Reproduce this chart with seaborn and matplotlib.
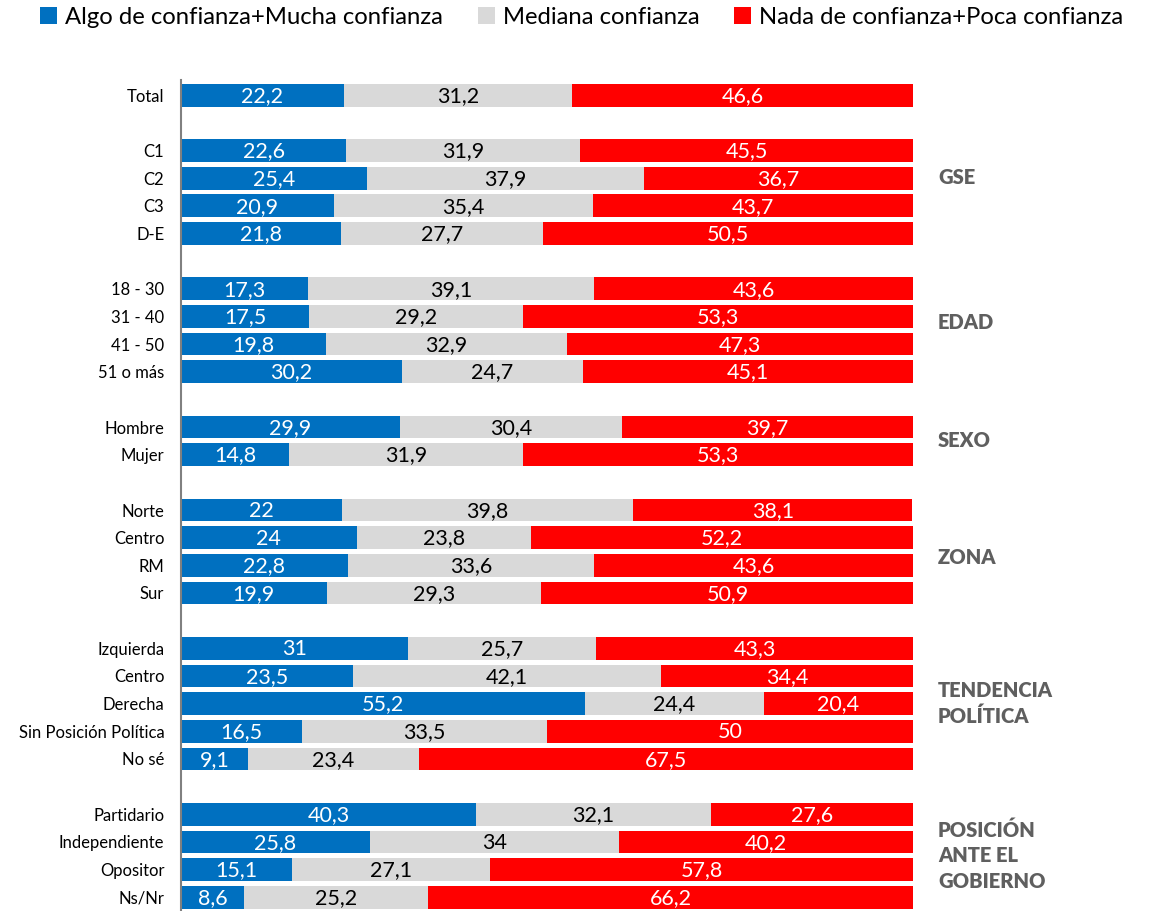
import matplotlib.pyplot as plt
import pandas as pd
import seaborn as sns
from matplotlib.patches import Patch

# Data
total_labels = ['Total']
gse_labels = ['C1', 'C2', 'C3', 'D-E']
edad_labels = ['18 - 30', '31 - 40', '41 - 50', '51 o más']
sexo_labels = ['Hombre', 'Mujer']
zona_labels = ['Norte', 'Centro', 'RM', 'Sur']
tendencia_labels = ['Izquierda', 'Centro', 'Derecha', 'Sin Posición Política', 'No sé']
posicion_labels = ['Partidario', 'Independiente', 'Opositor', 'Ns/Nr']

group_names = ['', 'GSE', 'EDAD', 'SEXO', 'ZONA', 'TENDENCIA\nPOLÍTICA', 'POSICIÓN\nANTE EL\nGOBIERNO']

confianza = [22.2,
             22.6, 25.4, 20.9, 21.8,
             17.3, 17.5, 19.8, 30.2,
             29.9, 14.8,
             22, 24, 22.8, 19.9,
             31, 23.5, 55.2, 16.5, 9.1,
             40.3, 25.8, 15.1, 8.6]
mediana = [31.2,
           31.9, 37.9, 35.4, 27.7,
           39.1, 29.2, 32.9, 24.7,
           30.4, 31.9,
           39.8, 23.8, 33.6, 29.3,
           25.7, 42.1, 24.4, 33.5, 23.4,
           32.1, 34, 27.1, 25.2]
nada = [46.6,
        45.5, 36.7, 43.7, 50.5,
        43.6, 53.3, 47.3, 45.1,
        39.7, 53.3,
        38.1, 52.2, 43.6, 50.9,
        43.3, 34.4, 20.4, 50, 67.5,
        27.6, 40.2, 57.8, 66.2]

legend_labels = ['Algo de confianza+Mucha confianza', 'Mediana confianza',
                 'Nada de confianza+Poca confianza']
colors = ['#0070C0', '#D9D9D9', '#FF0000']
text_colors = ['white', 'black', 'white']

# Build rows with unique keys and a blank spacer row between groups
groups = [total_labels, gse_labels, edad_labels, sexo_labels, zona_labels,
          tendencia_labels, posicion_labels]
keys, disp, order, order_disp = [], [], [], []
for g, labs in enumerate(groups):
    if g > 0:
        order.append(f'gap{g}')
        order_disp.append('')
    for lab in labs:
        k = f'{g}|{lab}'
        keys.append(k)
        disp.append(lab)
        order.append(k)
        order_disp.append(lab)

df = pd.DataFrame({'key': keys, 'label': disp, 'confianza': confianza,
                   'mediana': mediana, 'nada': nada})
df['c1'] = df['confianza']
df['c2'] = df['c1'] + df['mediana']
df['c3'] = df['c2'] + df['nada']

plt.rcParams['font.family'] = ['Lato', 'DejaVu Sans']
fig = plt.figure(figsize=(11.52, 9.11), dpi=100)
ax = fig.add_axes([181 / 1152, 0.0, 732 / 1152, 1 - 80 / 911])

# stacked bars: draw cumulative totals from the back
for col, c in zip(['c3', 'c2', 'c1'], colors[::-1]):
    sns.barplot(data=df, x=col, y='key', order=order, orient='h', color=c,
                saturation=1, errorbar=None, width=0.82, linewidth=0, ax=ax)

# value labels centred in each segment
for i, row in df.iterrows():
    y = order.index(row['key'])
    left = 0
    for col, tc in zip(['confianza', 'mediana', 'nada'], text_colors):
        v = row[col]
        ax.text(left + v / 2, y + 0.03, f'{v:g}'.replace('.', ','), ha='center',
                va='center', fontsize=15.5, color=tc)
        left += v

# group labels on the right
group_y = [None, 2.97, 8.22, 12.5, 16.7, 22.0, 27.5]
for name, yy in zip(group_names, group_y):
    if name:
        ax.text(1.034, yy, name, transform=ax.get_yaxis_transform(), ha='left',
                va='center', fontsize=14.5, fontweight='heavy', color='#5f5f5f',
                linespacing=1.42)

ax.set_xlim(0, 100)
ax.set_ylim(29.5, -0.55)
ax.set_yticks(range(len(order)))
ax.set_yticklabels(order_disp, fontsize=12)
ax.tick_params(axis='y', length=0, pad=12)
ax.set_xlabel('')
ax.set_ylabel('')
ax.xaxis.set_visible(False)
for s in ['top', 'right', 'bottom']:
    ax.spines[s].set_visible(False)
ax.spines['left'].set_color('#808080')
ax.spines['left'].set_linewidth(1.5)

handles = [Patch(facecolor=c, edgecolor='none') for c in colors]
fig.legend(handles, legend_labels, loc='upper center', bbox_to_anchor=(0.505, 1.016),
           ncol=3, frameon=False, fontsize=17.2, handlelength=0.7, handleheight=0.7,
           handletextpad=0.35, columnspacing=1.45)

fig.savefig('out.png', dpi=100)
